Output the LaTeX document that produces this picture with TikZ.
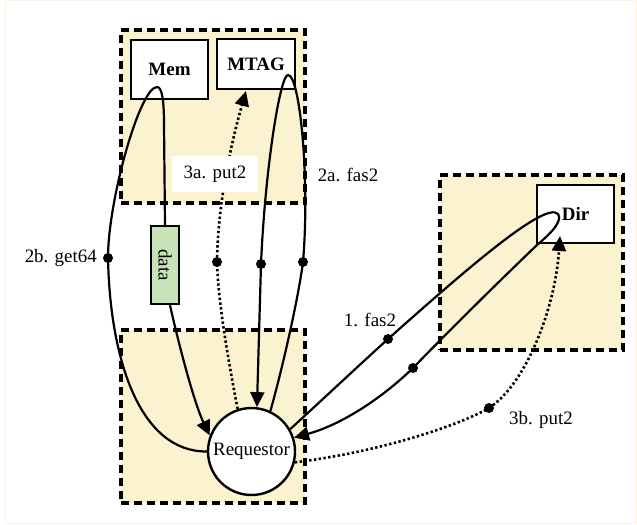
\documentclass[tikz,border=0pt]{standalone}
\usepackage{fontspec}
\setmainfont{Liberation Serif}
\usetikzlibrary{arrows.meta}
\definecolor{clusterfill}{HTML}{FBF2D0}
\definecolor{datafill}{HTML}{C9E3B9}
\definecolor{framecol}{HTML}{FBF3DC}
\begin{document}
\begin{tikzpicture}[x=1bp,y=-1bp,
  font=\fontsize{19}{22}\selectfont,
  cluster/.style={draw, line width=3.2bp, dash pattern=on 8bp off 5bp, fill=clusterfill, inner sep=0},
  box/.style={draw, line width=2.4bp, fill=white, inner sep=0, font=\bfseries\fontsize{19}{22}\selectfont},
  databox/.style={draw, line width=2.4bp, fill=datafill, inner sep=0, rotate=-90},
  reqnode/.style={draw, circle, line width=2.4bp, fill=white, inner sep=0, minimum size=87bp},
  thickline/.style={line width=2.2bp},
  arrowline/.style={line width=2.2bp, -{Triangle[length=15bp,width=14bp]}},
  dotline/.style={line width=2.6bp, dash pattern=on 2.4bp off 2.4bp},
  dotarrow/.style={line width=2.6bp, dash pattern=on 2.4bp off 2.4bp, -{Triangle[length=15bp,width=14bp]}},
  knot/.style={circle, fill=black, inner sep=0, minimum size=10bp},
  lbl/.style={inner sep=0},
  lblbox/.style={fill=white, inner sep=0, minimum width=86bp, minimum height=36bp}]
\useasboundingbox (0,0) rectangle (637,525);
\draw[framecol, line width=1bp] (5,1) rectangle (636,523);
% clusters
\node[cluster, minimum width=184bp, minimum height=173bp] (ctop) at (213,116.5) {};
\node[cluster, minimum width=184bp, minimum height=173bp] (cbot) at (213,416.5) {};
\node[cluster, minimum width=183bp, minimum height=175bp] (cdir) at (531.5,262.5) {};
% nodes
\node[box, minimum width=77bp, minimum height=59bp] (mem) at (169.5,69.5) {Mem};
\node[box, minimum width=78bp, minimum height=50bp] (mtag) at (256,64) {MTAG};
\node[box, minimum width=77bp, minimum height=58bp] (dir) at (575.5,214) {Dir};
\node[databox, minimum width=78bp, minimum height=28bp] (data) at (165,265) {data};
\node[reqnode] (req) at (251.5,451.5) {Requestor};
% knots
\node[knot] (k2b) at (108,258) {};
\node[knot] (k3a) at (217,262) {};
\node[knot] (k2a2) at (261,264) {};
\node[knot] (k2a) at (303,262) {};
\node[knot] (k1a) at (388,339) {};
\node[knot] (k1b) at (413,368) {};
\node[knot] (k3b) at (489,408) {};
\coordinate (memloop) at (157,87);
\coordinate (mtagloop) at (288,75);
\coordinate (dirloop) at (558,214);
\coordinate (mtagin) at (246,91);
\coordinate (dirin) at (560,236);
% 2b. get64
\draw[thickline] (req.west) .. controls (140,452) and (110,360) .. (k2b.center)
  .. controls (108,200) and (140,87) .. (memloop)
  .. controls (162,87) and (164,100) .. (164,125) -- (data.west);
\draw[arrowline] ([xshift=5bp]data.east) .. controls (180,350) and (195,405) .. (req.159);
% 2a. fas2
\draw[thickline] (req.65) .. controls (282,370) and (298,300) .. (k2a.center)
  .. controls (310,180) and (300,75) .. (mtagloop)
  .. controls (280,75) and (265,170) .. (k2a2.center);
\draw[arrowline] (k2a2.center) -- (req.83);
% 3a. put2
\draw[dotline] (req.108) .. controls (228,360) and (218,300) .. (k3a.center);
\draw[dotarrow] (k3a.center) .. controls (218,200) and (232,140) .. (mtagin);
% 1. fas2
\draw[thickline] (req.30) .. controls (322,400) and (355,369) .. (k1a.center)
  .. controls (460,275) and (545,200) .. (dirloop)
  .. controls (562,220) and (555,230) .. (537,245)
  .. controls (490,290) and (440,340) .. (k1b.center);
\draw[arrowline] (k1b.center) .. controls (380,400) and (340,425) .. (req.18);
% 3b. put2
\draw[dotline] (req.-14) .. controls (380,452) and (460,425) .. (k3b.center);
\draw[dotarrow] (k3b.center) .. controls (525,385) and (555,310) .. (dirin);
% labels
\node[lbl, anchor=east] (l2b) at (97,258) {2b. get64};
\node[lbl] (l2a) at (348,175) {2a. fas2};
\node[lbl] (l1) at (370,320) {1. fas2};
\node[lbl] (l3b) at (541,420) {3b. put2};
\node[lblbox] (l3a) at (215,174) {3a. put2};
\end{tikzpicture}
\end{document}
